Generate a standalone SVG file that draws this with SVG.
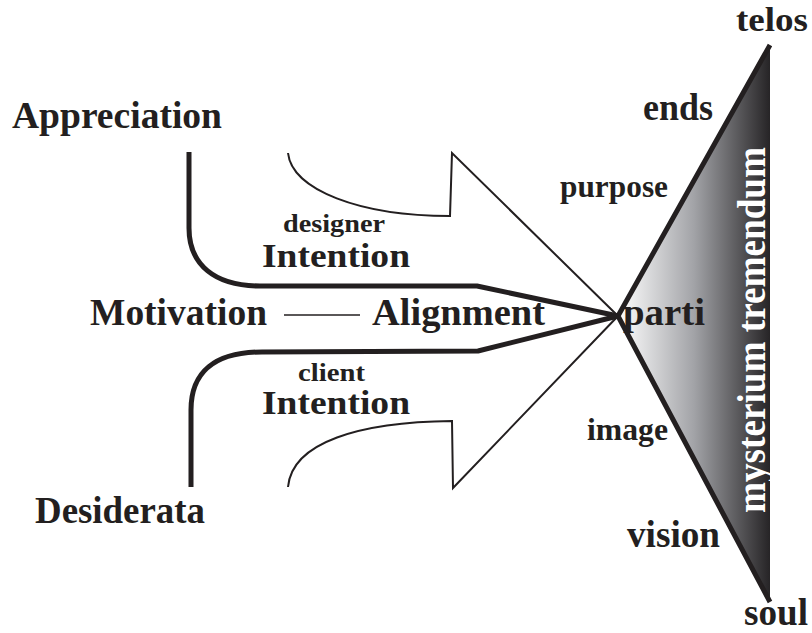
<svg xmlns="http://www.w3.org/2000/svg" width="812" height="633" viewBox="0 0 812 633">
<style>
text{font-family:"Liberation Serif","Times New Roman",serif;font-weight:bold;fill:#231f20}
.big{font-size:37px}
.int{font-size:33px}
.mid{font-size:31px}
.sm{font-size:25px}
.thick{fill:none;stroke:#231f20;stroke-width:5;stroke-linejoin:round}
.thin{fill:none;stroke:#231f20;stroke-width:2;stroke-linejoin:miter}
</style>
<defs>
<linearGradient id="g" x1="618" y1="0" x2="770" y2="0" gradientUnits="userSpaceOnUse">
<stop offset="0" stop-color="#ffffff"/>
<stop offset="0.5" stop-color="#a2a3a7"/>
<stop offset="1" stop-color="#262426"/>
</linearGradient>
</defs>
<rect width="812" height="633" fill="#fff"/>
<g id="triangle">
<polygon points="618,316 770,45 770,602" fill="url(#g)"/>
<polyline class="thick" points="770,45 618,316 770,602"/>
<text x="765" y="513" style="fill:#fff;font-size:39px" textLength="366" lengthAdjust="spacingAndGlyphs" transform="rotate(-90 765 513)">mysterium tremendum</text>
</g>
<g id="connectors">
<path class="thin" d="M288,153 C292,190 360,216 450,216 L452,153 L618,316"/>
<path class="thin" d="M288,487 C292,442 360,422 452,421 L453,488 L618,316"/>
<path class="thick" d="M189,152 L189,228 C189,265 215,286 260,286 L477,286 L618,316"/>
<path class="thick" d="M191,487 L191,410 C191,372 215,352 262,352 L478,351 L618,316"/>
<line x1="284" y1="315" x2="360" y2="315" stroke="#231f20" stroke-width="1.5"/>
</g>
<g id="appreciation"><text class="big" x="12" y="128" textLength="210" lengthAdjust="spacingAndGlyphs">Appreciation</text></g>
<g id="motivation"><text class="big" x="90" y="325" textLength="177" lengthAdjust="spacingAndGlyphs">Motivation</text></g>
<g id="alignment"><text class="big" x="372" y="325" textLength="173" lengthAdjust="spacingAndGlyphs">Alignment</text></g>
<g id="desiderata"><text class="big" x="35" y="523" textLength="170" lengthAdjust="spacingAndGlyphs">Desiderata</text></g>
<g id="designer-intention">
<text class="sm" x="283" y="232" textLength="102" lengthAdjust="spacingAndGlyphs">designer</text>
<text class="int" x="262" y="267" textLength="148" lengthAdjust="spacingAndGlyphs">Intention</text>
</g>
<g id="client-intention">
<text class="sm" x="298" y="381" textLength="67" lengthAdjust="spacingAndGlyphs">client</text>
<text class="int" x="262" y="414" textLength="148" lengthAdjust="spacingAndGlyphs">Intention</text>
</g>
<g id="parti"><text class="big" x="623" y="325" textLength="82" lengthAdjust="spacingAndGlyphs">parti</text></g>
<g id="telos"><text style="font-size:34px" x="736" y="31" textLength="72" lengthAdjust="spacingAndGlyphs">telos</text></g>
<g id="ends"><text class="big" x="643" y="120" textLength="70" lengthAdjust="spacingAndGlyphs">ends</text></g>
<g id="purpose"><text class="mid" x="560" y="197" textLength="108" lengthAdjust="spacingAndGlyphs">purpose</text></g>
<g id="image"><text class="mid" x="587" y="440" textLength="81" lengthAdjust="spacingAndGlyphs">image</text></g>
<g id="vision"><text class="big" x="627" y="547" textLength="93" lengthAdjust="spacingAndGlyphs">vision</text></g>
<g id="soul"><text class="big" x="744" y="625" textLength="64" lengthAdjust="spacingAndGlyphs">soul</text></g>
</svg>
